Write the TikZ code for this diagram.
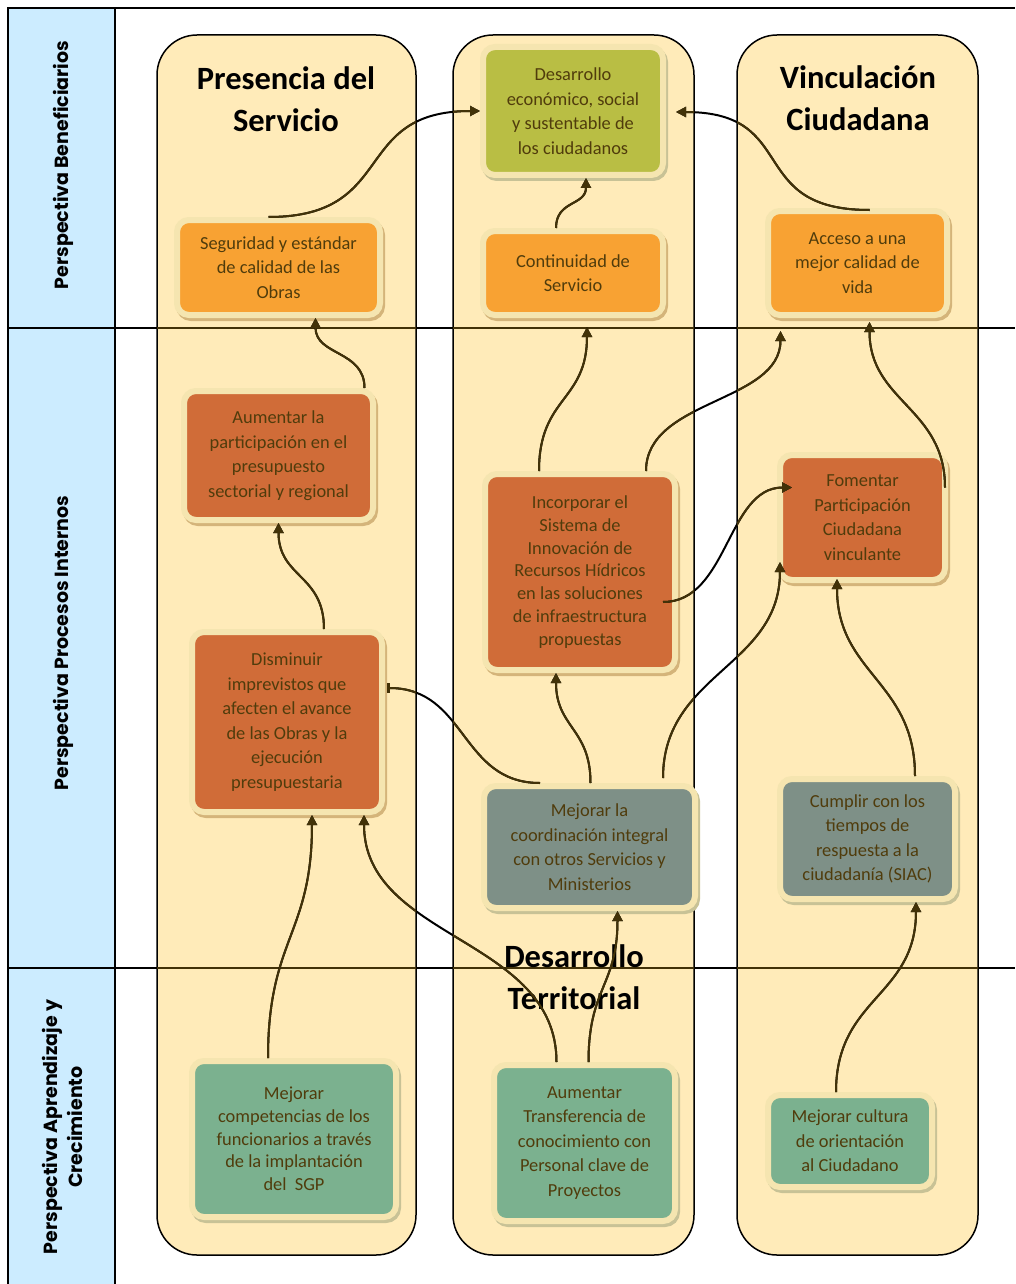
\documentclass[tikz,border=0pt]{standalone}
\usepackage{fontspec}
\setmainfont{Carlito}
\newfontfamily\gothicfont{Poppins}
\usetikzlibrary{calc,arrows.meta}

\definecolor{lanefill}{RGB}{204,236,255}
\definecolor{colfill}{RGB}{255,235,185}
\definecolor{rim}{RGB}{245,229,176}
\definecolor{shadewarm}{RGB}{212,180,122}
\definecolor{shadecool}{RGB}{200,194,150}
\definecolor{orangefill}{RGB}{248,162,51}
\definecolor{olivefill}{RGB}{185,190,68}
\definecolor{rustfill}{RGB}{208,108,56}
\definecolor{slatefill}{RGB}{126,144,135}
\definecolor{greenfill}{RGB}{123,177,143}
\definecolor{inktext}{RGB}{80,60,12}
\definecolor{inkline}{RGB}{66,50,8}
\colorlet{linkcolor}{black}

\tikzset{
  goal/.style={rounded corners=12pt, draw=rim, line width=6pt, text=inktext,
    align=center, inner sep=0pt, font=\fontsize{18.4}{24.5}\selectfont},
  warm/.style={goal, preaction={fill=shadewarm, draw=shadewarm,
    transform canvas={shift={(2pt,-3pt)}}}},
  cool/.style={goal, preaction={fill=shadecool, draw=shadecool,
    transform canvas={shift={(2pt,-3pt)}}}},
  lane/.style={rounded corners=40pt, fill=colfill, draw=black, line width=1.5pt},
  coltitle/.style={align=center, font=\bfseries\fontsize{32.5}{42}\selectfont},
  rowtitle/.style={rotate=90, align=center,
    font=\gothicfont\bfseries\fontsize{19}{25}\selectfont},
  link/.style={draw=linkcolor, line width=2pt, -{Triangle[length=10pt,width=10pt]}},
  linkbar/.style={draw=linkcolor, line width=2pt, -{Rectangle[length=3pt,width=10pt]}},
}

% all objective-to-objective connectors
\newcommand\linkset{%
  \draw[link] ($(seg.north)+(-10,0)$) .. controls +(130,0) and +(-130,0) .. (des.west);
  \draw[link] ($(con.north)+(-17,0)$) .. controls +(0,-28) and +(0,28) .. ($(des.south)+(13,0)$);
  \draw[link] ($(acc.north)+(12,2)$) .. controls +(-125,0) and +(125,0) .. ($(des.east)+(10,1)$);
  \draw[link] ($(aum.north)+(86,0)$) .. controls +(0,-38) and +(0,38) .. ($(seg.south)+(37,0)$);
  \draw[link] ($(dis.north)+(37,0)$) .. controls +(0,-55) and +(0,55) .. (aum.south);
  \draw[link] ($(inc.north)+(-41,0)$) .. controls +(0,-75) and +(0,75) .. ($(con.south)+(14,9)$);
  \draw[link] ($(inc.north)+(66,0)$) .. controls +(0,-72) and +(0,72) .. ($(acc.south)+(-77,13)$);
  \draw[link] ($(fom.east)+(-3,-30)$) .. controls +(0,-80) and +(0,80) .. ($(acc.south)+(12,4)$);
  \draw[link] ($(inc.east)+(-15,30)$) .. controls +(65,0) and +(-65,0) .. ($(fom.west)+(15,-30)$);
  \draw[link] ($(mej.north)+(1,0)$) .. controls +(0,-55) and +(0,55) .. ($(inc.south)+(-24,0)$);
  \draw[linkbar] ($(mej.north)+(-49.5,0)$) .. controls +(-80,0) and +(80,0) .. ($(dis.east)+(2,-34)$);
  \draw[link] ($(mej.north)+(73.5,-5)$) .. controls +(0,-105) and +(0,105) .. ($(fom.south west)+(3,-21)$);
  \draw[link] ($(cum.north)+(47.5,0)$) .. controls +(0,-95) and +(0,95) .. ($(fom.south)+(-25.5,-4)$);
  \draw[link] ($(com.north)+(-26,0)$) .. controls +(0,-120) and +(0,120) .. ($(dis.south)+(25,0)$);
  \draw[link] ($(tra.north)+(-28,0)$) .. controls +(0,-125) and +(0,125) .. ($(dis.south)+(77,0)$);
  \draw[link] ($(tra.north)+(4,0)$) .. controls +(0,-75) and +(0,75) .. ($(mej.south)+(28,0)$);
  \draw[link] ($(cul.north)+(-14,0)$) .. controls +(0,-95) and +(0,95) .. ($(cum.south)+(48.5,0)$);
}
\newcommand\lanepaths{(157,35) rectangle (416,1255) (453,35) rectangle (694,1255) (737,35) rectangle (978,1255)}
\newcommand\rowlines{%
  \draw[line width=2pt, draw=linkcolor] (8,328) -- (1015,328);
  \draw[line width=2pt, draw=linkcolor] (8,968) -- (1015,968);
}

\begin{document}
\begin{tikzpicture}[x=1pt, y=-1pt]
\useasboundingbox (0,0) rectangle (1015,1284);
\fill[white] (0,0) rectangle (1015,1284);

% perspective strip on the left
\fill[lanefill] (8,8) rectangle (115,1284);
\draw[line width=2.5pt] (8,1284) -- (8,8) -- (1015,8);
\draw[line width=2.5pt] (115,8) -- (115,1284);
\rowlines

% the three thematic lanes
\draw[lane] (157,35) rectangle (416,1255);
\draw[lane] (453,35) rectangle (694,1255);
\draw[lane] (737,35) rectangle (978,1255);
\begin{scope}
  \clip[rounded corners=40pt] \lanepaths;
  \colorlet{linkcolor}{inkline}
  \rowlines
\end{scope}

% perspective names
\node[rowtitle] (r1) at (63,165) {Perspectiva Beneficiarios};
\node[rowtitle] (r2) at (63,643) {Perspectiva Procesos Internos};
\node[rowtitle] (r3) at (62,1127) {Perspectiva Aprendizaje y\\Crecimiento};

% lane titles
\node[coltitle] (t1) at (286,99) {Presencia del\\Servicio};
\node[coltitle] (t3) at (858,98) {Vinculación\\Ciudadana};
\node[coltitle] (t2) at (574,977) {Desarrollo\\Territorial};

% objectives
\node[warm, fill=orangefill, minimum width=203pt, minimum height=95pt] (seg) at (278.5,267.5) {Seguridad y estándar\\de calidad de las\\Obras};
\node[cool, fill=olivefill, minimum width=180pt, minimum height=128pt] (des) at (573,111) {Desarrollo\\económico, social\\y sustentable de\\los ciudadanos};
\node[warm, fill=orangefill, minimum width=180pt, minimum height=84pt] (con) at (573,273) {Continuidad de\\Servicio};
\node[warm, fill=orangefill, minimum width=179pt, minimum height=104pt] (acc) at (857.5,263) {Acceso a una\\mejor calidad de\\vida};
\node[warm, fill=rustfill, minimum width=189pt, minimum height=129pt] (aum) at (278.5,455.5) {Aumentar la\\participación en el\\presupuesto\\sectorial y regional};
\node[warm, fill=rustfill, minimum width=190pt, minimum height=180pt] (dis) at (287,722) {Disminuir\\imprevistos que\\afecten el avance\\de las Obras y la\\ejecución\\presupuestaria};
\node[warm, fill=rustfill, minimum width=190pt, minimum height=196pt, font=\fontsize{18.4}{22.7}\selectfont] (inc) at (580,572) {Incorporar el\\Sistema de\\Innovación de\\Recursos Hídricos\\en las soluciones\\de infraestructura\\propuestas};
\node[warm, fill=rustfill, minimum width=165pt, minimum height=125pt] (fom) at (862.5,517.5) {Fomentar\\Participación\\Ciudadana\\vinculante};
\node[cool, fill=slatefill, minimum width=211pt, minimum height=122pt] (mej) at (589.5,847) {Mejorar la\\coordinación integral\\con otros Servicios y\\Ministerios};
\node[cool, fill=slatefill, minimum width=175pt, minimum height=120pt] (cum) at (867.5,839) {Cumplir con los\\tiempos de\\respuesta a la\\ciudadanía (SIAC)};
\node[cool, fill=greenfill, minimum width=204pt, minimum height=156pt, font=\fontsize{18.4}{22.7}\selectfont] (com) at (294,1139) {Mejorar\\competencias de los\\funcionarios a través\\de la implantación\\del~~SGP};
\node[cool, fill=greenfill, minimum width=181pt, minimum height=156pt] (tra) at (584.5,1143) {Aumentar\\Transferencia de\\conocimiento con\\Personal clave de\\Proyectos};
\node[cool, fill=greenfill, minimum width=164pt, minimum height=92pt] (cul) at (850,1141) {Mejorar cultura\\de orientación\\al Ciudadano};

% connectors: black over the white gaps, brown inside the lanes
\linkset
\begin{scope}
  \clip[rounded corners=40pt] \lanepaths;
  \colorlet{linkcolor}{inkline}
  \linkset
\end{scope}
\end{tikzpicture}
\end{document}
